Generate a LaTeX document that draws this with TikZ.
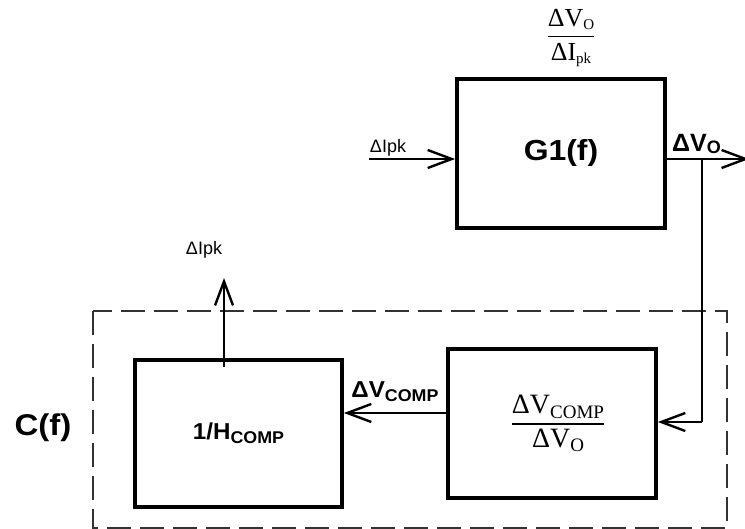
\documentclass[tikz,border=0pt]{standalone}
\usepackage{fontspec}
\usepackage{amsmath}
\usepackage{graphicx}
\setmainfont{Liberation Serif}
\setsansfont{Liberation Sans}
\usetikzlibrary{arrows.meta}
\newcommand{\wide}[2][1.1]{\scalebox{#1}[1]{#2}}
\newcommand{\fs}[1]{\fontsize{#1}{#1}\selectfont}
\newcommand{\sbs}[2]{{\fs{#1}\raisebox{-0.25em}{#2}}}
\newcommand{\myfrac}[2]{$\genfrac{}{}{1.3pt}{0}{\text{#1}}{\text{#2}}$}
\begin{document}
\begin{tikzpicture}[x=1pt,y=-1pt,
  blk/.style={draw, line width=3.8pt, inner sep=0pt},
  wire/.style={line width=1.6pt},
  arr/.style={wire, -{Straight Barb[length=24pt,width=18pt,line width=2.4pt]}},
  lab/.style={font=\sffamily\fs{18}, inner sep=0pt},
  blab/.style={font=\sffamily\bfseries\fs{23}, inner sep=0pt},
  frame/.style={draw=black!80, line width=1.1pt, dash pattern=on 24pt off 9pt}
]
\useasboundingbox (0,0) rectangle (745,529);

% dashed frame of C(f)
\draw[frame] (93,311) rectangle (727,528);

% blocks
\node[blk, minimum width=208pt, minimum height=149pt, font=\sffamily\bfseries\fs{29}] (g1) at (561,153.5) {\wide[1.1]{G1(f)}};
\node[blk, minimum width=208pt, minimum height=149pt, font=\fs{28}] (R) at (552,423.5) {\hspace{12pt}\myfrac{ΔV\sbs{19}{COMP}}{ΔV\sbs{19}{O}}};
\node[blk, minimum width=207pt, minimum height=147pt, font=\sffamily\bfseries\fs{23}] (L) at (238.5,433.5) {\wide[1.05]{1/H\sbs{17}{COMP}}};

% top fraction
\node[font=\fs{26}, inner sep=0pt] (tf) at (571,38) {\myfrac{ΔV\sbs{15}{O}}{ΔI\sbs{15}{pk}}};

% labels
\node[lab] (lin) at (388,148) {ΔIpk};
\node[font=\sffamily\bfseries\fs{25}, inner sep=0pt, anchor=base west] (lout) at (672,152) {ΔV{\fs{18}\raisebox{-0.1em}{O}}};
\node[lab] (lup) at (204,250) {ΔIpk};
\node[blab] (lmid) at (395,392) {\wide[1.05]{ΔV\sbs{17}{COMP}}};
\node[font=\sffamily\bfseries\fs{30}, inner sep=0pt] (cf) at (43,428) {\wide[1.1]{C(f)}};

% connectors
\coordinate (inS) at (369,159);
\draw[arr] (inS) -- (inS -| g1.west);
\coordinate (outE) at (749,159);
\draw[arr] (g1.east |- outE) -- (outE);
\coordinate (br) at (702,159);
\coordinate (brR) at (702,422);
\draw[wire] (br) -- (brR);
\draw[arr] (brR) -- (brR -| R.east);
\coordinate (mid) at (400,413);
\draw[arr] (mid -| R.west) -- (mid -| L.east);
\coordinate (up) at (224,278);
\draw[arr] (up |- 0,367) -- (up);
\end{tikzpicture}
\end{document}
